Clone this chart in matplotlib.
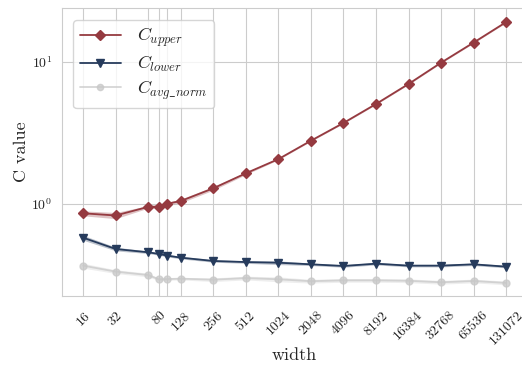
import matplotlib
matplotlib.use('Agg')
import matplotlib.pyplot as plt
import seaborn as sns
import numpy as np

widths = [16, 32, 64, 80, 96, 128, 256, 512, 1024, 2048, 4096, 8192,
          16384, 32768, 65536, 131072]
shown_ticks = [16, 32, 80, 128, 256, 512, 1024, 2048, 4096, 8192,
               16384, 32768, 65536, 131072]

c_upper = [0.86, 0.83, 0.955, 0.96, 1.005, 1.05, 1.29, 1.645, 2.07, 2.79,
           3.72, 5.06, 7.0, 9.89, 13.7, 19.1]
c_lower = [0.579, 0.482, 0.457, 0.445, 0.433, 0.419, 0.397, 0.39, 0.386,
           0.376, 0.366, 0.38, 0.368, 0.368, 0.376, 0.362]
c_avg_norm = [0.368, 0.334, 0.316, 0.295, 0.296, 0.298, 0.293, 0.301, 0.295,
              0.286, 0.29, 0.29, 0.288, 0.281, 0.287, 0.278]

# relative half-width of the confidence band around each curve
upper_spread = [0.04, 0.05, 0.02, 0.02, 0.02, 0.03, 0.03, 0.02, 0.01, 0.01,
                0.01, 0.01, 0.01, 0.01, 0.01, 0.01]
lower_spread = [0.04, 0.03, 0.02, 0.02, 0.02, 0.02, 0.02, 0.02, 0.03, 0.02,
                0.02, 0.02, 0.02, 0.02, 0.02, 0.02]
avg_spread = [0.04, 0.03, 0.03, 0.02, 0.02, 0.02, 0.03, 0.03, 0.04, 0.03,
              0.03, 0.03, 0.03, 0.03, 0.03, 0.03]

sns.set_style('whitegrid')
plt.rcParams['font.family'] = 'serif'
plt.rcParams['font.serif'] = ['cmr10', 'DejaVu Serif']
plt.rcParams['mathtext.fontset'] = 'cm'
plt.rcParams['axes.formatter.use_mathtext'] = True

fig = plt.figure(figsize=(5.22, 3.67), dpi=100)
ax = fig.add_axes([0.1188, 0.1935, 0.891, 0.7847])

series = [
    (c_upper, upper_spread, '#953a40', 'D', 5.5, 1.0, r'$C_{upper}$'),
    (c_lower, lower_spread, '#263b5c', 'v', 6, 1.0, r'$C_{lower}$'),
    (c_avg_norm, avg_spread, '#c8c8c8', 'o', 5, 0.75, r'$C_{avg\_norm}$'),
]
x = np.array(widths)
for vals, spread, color, marker, ms, alpha, label in series:
    v = np.array(vals)
    s = np.array(spread)
    ax.fill_between(x, v * (1 - s), v * (1 + s), color=color, alpha=0.3,
                    linewidth=0)
    ax.plot(x, v, color=color, marker=marker, markersize=ms, alpha=alpha,
            linewidth=1.3, label=label)

ax.set_xscale('log', base=2)
ax.set_yscale('log')
ax.set_xlim(10.2, 205000)
ax.set_ylim(0.225, 24)
ax.set_xticks(widths)
ax.set_xticklabels([str(w) if w in shown_ticks else '' for w in widths],
                   rotation=45, fontsize=10)
ax.xaxis.set_minor_locator(matplotlib.ticker.NullLocator())
ax.yaxis.set_minor_locator(matplotlib.ticker.NullLocator())
ax.tick_params(axis='x', pad=6)
ax.tick_params(axis='y', labelsize=10)
ax.set_xlabel('width', fontsize=13, labelpad=0)
ax.set_ylabel('C value', fontsize=13, labelpad=2)

leg = ax.legend(loc='upper left', fontsize=13, borderpad=0.35,
                labelspacing=0.25, handlelength=2.3, handletextpad=0.9,
                bbox_to_anchor=(0.005, 0.99), markerscale=0.9)

fig.savefig('out.png', dpi=100)
